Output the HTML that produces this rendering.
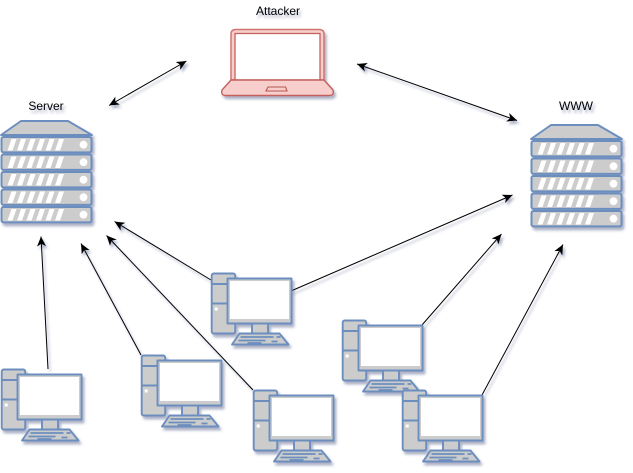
<!DOCTYPE html>
<html><head><meta charset="utf-8"><style>
html,body{margin:0;padding:0;background:#fff}
svg{display:block;position:absolute;left:0;top:0}
text{font-family:"Liberation Sans",Helvetica,Arial,sans-serif;font-size:12px;fill:#000;text-anchor:middle}
</style></head><body>
<svg width="633" height="473" viewBox="0 0 633 473" xmlns="http://www.w3.org/2000/svg">
<defs>
<filter id="s" x="-20%" y="-20%" width="150%" height="150%"><feGaussianBlur in="SourceGraphic" stdDeviation="0.3" result="b"/><feDropShadow in="b" dx="2" dy="3" stdDeviation="1.4" flood-color="#3c4a78" flood-opacity=".42"/></filter>
<marker id="a" markerUnits="userSpaceOnUse" viewBox="0 0 12 10" refX="11" refY="5" markerWidth="11" markerHeight="9" orient="auto-start-reverse"><path d="M0 0L11 5L0 10L3 5Z" fill="#000"/></marker>
<g id="c" stroke="#6c8ebf" stroke-width="1.900" stroke-linejoin="round">
<rect x="0.200" y="0" width="23.500" height="60" rx="2" fill="#cccccc"/>
<path d="M0.200 10.500H23.700M0.200 30H23.700" fill="none"/>
<rect x="3.200" y="34" width="3" height="3" fill="#fff" stroke="none"/>
<rect x="40.500" y="50" width="16" height="10" fill="#cccccc"/>
<path d="M28 60H68L77 71H20.500Z" fill="#cccccc"/>
<path d="M29 63.500H62M65 63.500H69M27 67H54M60 68H66M36 69.500H50" stroke-width="1.800" fill="none"/>
<rect x="16" y="5" width="64" height="45" fill="#cccccc"/>
<rect x="18.500" y="7.500" width="59" height="38" fill="#fff" stroke="none"/>
</g>
<g id="r">
<rect x="0" y="0" width="90" height="15.400" rx="2" fill="#cccccc" stroke="#6c8ebf" stroke-width="2"/>
<path d="M6 13.500L10 2H15L11 13.500ZM15.500 13.500L19.500 2H24.500L20.500 13.500ZM25 13.500L29 2H34L30 13.500ZM34.500 13.500L38.500 2H43.500L39.500 13.500ZM44 13.500L48 2H53L49 13.500ZM53.500 13.500L57.500 2H62.500L58.500 13.500Z" fill="#fff"/>
<circle cx="82" cy="7.700" r="3.900" fill="#fff"/>
</g>
<g id="sv">
<path d="M20 0H67L91 14H0Z" fill="#cccccc" stroke="#6c8ebf" stroke-width="1.900" stroke-linejoin="round"/>
<use href="#r" x="0.500" y="16"/><use href="#r" x="0.500" y="33.500"/><use href="#r" x="0.500" y="51"/><use href="#r" x="0.500" y="68.500"/><use href="#r" x="0.500" y="86"/>
</g>
</defs>

<g filter="url(#s)">
<path d="M231 80V34Q231 29.500 236 29.500H319Q324 29.500 324 34V80Z" fill="#f8cecc" stroke="#d07672" stroke-width="1.500"/>
<rect x="235" y="33.500" width="85" height="46.500" fill="#fff" stroke="#c4615d" stroke-width="1.300"/>
<path d="M231 80H324L333 90Q334.500 95.500 329 95.500H226Q220.500 95.500 222 90Z" fill="#f8cecc" stroke="#c4615d" stroke-width="1.400" stroke-linejoin="round"/>
<path d="M268 87H285.500L287 91H266Z" fill="#f8cecc" stroke="#b85450" stroke-width="1.100"/>
</g>

<use href="#sv" x="1" y="121" filter="url(#s)"/>
<use href="#sv" x="531" y="125" filter="url(#s)"/>

<g filter="url(#s)" fill="none" stroke="#000" stroke-width="1">
<path d="M109 105.500L186.500 61" marker-start="url(#a)" marker-end="url(#a)"/>
<path d="M357 64L517 120.500" marker-start="url(#a)" marker-end="url(#a)"/>
<path d="M48 369L41 236.500" marker-end="url(#a)"/>
<path d="M141 355L81 243.500" marker-end="url(#a)"/>
<path d="M253 390L106.500 235.500" marker-end="url(#a)"/>
<path d="M211 280L114.500 221.500" marker-end="url(#a)"/>
<path d="M291 291L512.500 195" marker-end="url(#a)"/>
<path d="M422 325L501.500 234" marker-end="url(#a)"/>
<path d="M482 395L563 244.500" marker-end="url(#a)"/>
</g>

<use href="#c" x="1.500" y="369.500" filter="url(#s)"/>
<use href="#c" x="141.500" y="355.500" filter="url(#s)"/>
<use href="#c" x="253.500" y="390.500" filter="url(#s)"/>
<use href="#c" x="211.500" y="273.500" filter="url(#s)"/>
<use href="#c" x="342.500" y="320.500" filter="url(#s)"/>
<use href="#c" x="402.500" y="390.500" filter="url(#s)"/>

<g filter="url(#s)">
<text x="278" y="15">Attacker</text>
<text x="46" y="110">Server</text>
<text x="576" y="110">WWW</text>
</g>
</svg>
</body></html>
